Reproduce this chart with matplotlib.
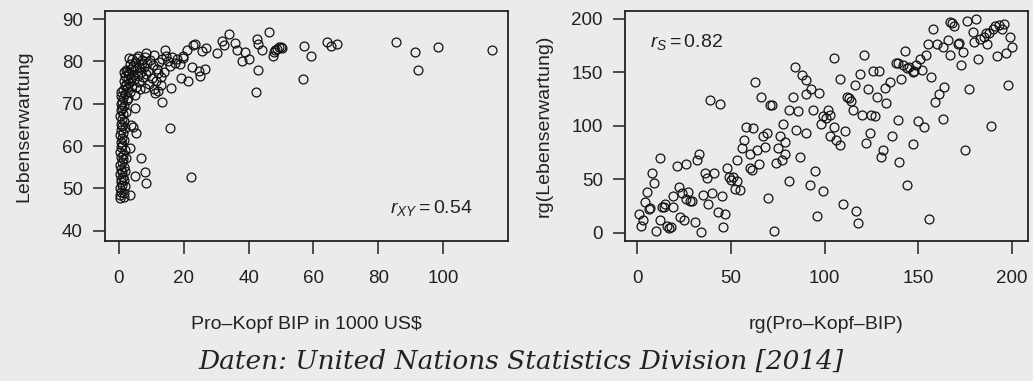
import matplotlib
matplotlib.use("Agg")
import matplotlib.pyplot as plt

plt.rcParams['font.family'] = ['Liberation Sans', 'DejaVu Sans']
plt.rcParams['mathtext.fontset'] = 'custom'
plt.rcParams['mathtext.rm'] = 'Liberation Sans'
plt.rcParams['mathtext.it'] = 'Liberation Sans:italic'

# Pro-Kopf BIP (1000 US$) und Lebenserwartung je Land
gdp = [0.3, 0.6, 0.4, 1.0, 0.5, 0.8, 1.3, 0.4, 1.1, 0.7, 1.6, 0.3, 0.9, 1.4, 0.6, 1.2,
       0.4, 1.8, 0.8, 1.1, 0.5, 1.5, 0.9, 0.3, 1.3, 0.7, 2.0, 1.0, 0.5, 1.6, 0.9, 0.4,
       1.3, 2.2, 0.7, 1.1, 1.7, 0.5, 1.0, 2.4, 1.4, 0.8, 1.9, 0.6, 1.2, 2.6, 1.6, 1.9,
       1.5, 1.8, 2.1, 0.2, 1.7,
       1.8, 2.3, 3.0, 1.5, 2.7, 3.6, 2.0, 4.2, 3.1, 1.7, 2.5, 4.8, 3.8, 5.5, 2.2, 6.2,
       4.4, 3.3, 7.0, 5.1, 2.8, 6.8, 5.8, 4.6, 3.9, 6.1, 7.5, 8.3, 9.1, 7.8, 8.8, 9.6,
       10.5, 11.8, 12.5, 13.2, 14.6, 15.2, 10.2, 11.4, 12.0, 9.4, 8.0, 6.5, 5.2, 4.0,
       3.0, 5.7, 7.2, 16.5, 17.8, 18.7, 19.8, 10.9, 8.2, 12.9, 14.0, 15.8, 12.2, 3.5,
       4.9, 2.9, 10.8, 13.0,
       3.4, 4.9, 8.0, 8.5, 6.8, 3.4, 3.8, 4.5, 5.3, 4.9, 15.7, 22.2, 13.2, 16.0, 11.1,
       19.3, 21.2, 22.4, 22.9, 20.9, 19.9, 17.3, 14.2, 6.0, 8.5, 23.5, 24.7, 25.0, 26.5,
       25.5, 26.9, 30.3, 32.5, 31.7, 34.0, 35.8, 36.3, 37.9, 38.9, 40.2, 42.3, 42.8,
       44.0, 43.0, 42.5, 46.3, 47.6, 47.7, 48.2, 48.7, 49.5, 49.9, 50.2, 56.9, 57.2,
       59.3, 64.1, 65.4, 67.2, 85.5, 91.4, 92.4, 98.3, 115.0]
life = [48.5, 49.2, 50.1, 50.8, 51.5, 52.2, 52.6, 53.3, 53.8, 54.5, 55.0, 55.6, 56.2,
        56.9, 57.5, 58.0, 58.6, 59.1, 59.7, 60.3, 60.9, 61.4, 62.0, 62.6, 63.1, 63.7,
        64.2, 64.8, 65.3, 65.9, 66.4, 67.0, 67.5, 68.0, 68.5, 69.0, 69.5, 70.0, 70.5,
        71.0, 71.4, 71.9, 72.3, 72.8, 73.2, 73.6, 49.0, 50.5, 52.0, 54.2, 57.2, 47.8,
        47.9,
        74.1, 74.6, 75.0, 75.4, 75.8, 76.1, 76.5, 76.8, 77.1, 77.4, 77.7, 77.9, 78.2,
        78.4, 78.0, 78.7, 79.0, 79.3, 79.5, 79.8, 77.2, 77.4, 76.6, 75.6, 74.3, 75.2,
        76.2, 77.0, 77.8, 78.6, 79.6, 80.3, 79.1, 78.2, 79.8, 80.6, 81.2, 80.2, 76.0,
        75.3, 77.2, 74.6, 73.8, 73.5, 74.0, 80.5, 80.9, 80.8, 80.3, 81.0, 80.5, 79.3,
        80.8, 81.5, 81.0, 76.4, 77.5, 78.8, 72.9, 72.7, 72.0, 71.3, 73.5, 74.5,
        48.4, 53.0, 53.9, 51.2, 57.2, 59.5, 65.0, 64.4, 63.2, 69.1, 64.2, 52.8, 70.5,
        73.6, 72.5, 76.0, 75.4, 78.7, 83.9, 82.7, 81.3, 79.5, 82.7, 81.3, 81.9, 84.0,
        77.7, 76.5, 78.1, 82.4, 83.2, 81.9, 83.9, 84.8, 86.4, 84.4, 82.6, 80.2, 82.3,
        80.5, 72.8, 77.9, 82.8, 84.2, 85.2, 87.0, 81.3, 82.3, 82.7, 82.9, 83.3, 83.4,
        83.1, 75.8, 83.7, 81.3, 84.6, 83.7, 84.2, 84.6, 82.1, 78.0, 83.5, 82.6]

# Rangplätze (BIP, Lebenserwartung)
rank_gdp = [1, 2, 3, 5, 4, 6, 7, 8, 9, 10, 12, 12, 13, 14, 15, 16, 17, 18, 19, 19,
            21, 22, 23, 24, 25, 26, 26, 27, 28, 29, 31, 32, 33, 34, 35, 36, 37, 38, 39,
            40, 41, 43, 44, 45, 46, 47, 48, 49, 50, 51, 52, 53, 53, 55, 56, 57, 58, 60,
            60, 61, 62, 63, 64, 65, 66, 67, 68, 69, 70, 71, 72, 73, 74, 75, 76, 77, 78,
            79, 79, 81, 81, 83, 84, 85, 86, 87, 88, 90, 90, 90, 92, 93, 94, 95, 96, 97,
            98, 99, 99, 101, 102, 103, 103, 105, 105, 106, 108, 108, 110, 111, 112, 113,
            114, 115, 116, 117, 118, 119, 120, 121, 122, 123, 124, 125, 126, 127, 128,
            129, 130, 131, 132, 133, 135, 136, 138, 139, 139, 140, 141, 142, 143, 144,
            144, 145, 147, 147, 148, 149, 150, 151, 152, 153, 154, 155, 156, 157, 158,
            159, 160, 161, 163, 163, 164, 166, 167, 167, 168, 169, 171, 172, 173, 174,
            175, 176, 177, 179, 180, 181, 182, 183, 185, 186, 187, 188, 189, 190, 191,
            192, 193, 195, 196, 197, 198, 199, 200]
rank_life = [17, 6, 12, 38, 29, 22, 23, 56, 46, 2, 12, 70, 24, 24, 27, 6, 4, 5, 24, 34,
             62, 43, 15, 37, 12, 64, 31, 38, 30, 30, 10, 68, 74, 1, 35, 56, 51, 27, 124,
             37, 56, 19, 120, 34, 5, 17, 60, 52, 49, 52, 41, 48, 68, 40, 79, 87, 99, 74,
             60, 59, 98, 141, 77, 64, 127, 90, 80, 93, 32, 119, 119, 2, 65, 79, 90, 68,
             102, 85, 74, 115, 48, 127, 155, 96, 114, 71, 147, 93, 143, 130, 45, 134,
             115, 58, 16, 131, 102, 39, 109, 107, 115, 90, 110, 99, 163, 87, 144, 82, 27,
             95, 127, 126, 123, 115, 138, 20, 9, 148, 110, 166, 84, 134, 93, 110, 151,
             109, 127, 151, 71, 77, 135, 121, 141, 90, 159, 105, 159, 66, 144, 157, 170,
             154, 45, 155, 83, 150, 151, 157, 104, 162, 152, 99, 166, 176, 13, 146, 190,
             122, 176, 130, 106, 174, 136, 180, 166, 197, 196, 193, 176, 177, 157, 169,
             77, 198, 134, 188, 178, 200, 162, 181, 183, 187, 176, 187, 100, 190, 193,
             165, 194, 190, 195, 168, 138, 183, 174]

bg = '#ebebeb'
ink = '#222222'

fig = plt.figure(figsize=(10.33, 3.81), dpi=100, facecolor=bg)
ax1 = fig.add_axes([0.1016, 0.3675, 0.3901, 0.6037])
ax2 = fig.add_axes([0.6050, 0.3675, 0.3901, 0.6037])

for ax in (ax1, ax2):
    ax.set_facecolor(bg)
    for s in ax.spines.values():
        s.set_linewidth(1.3)
        s.set_color(ink)
    ax.tick_params(direction='out', length=9, width=1.1, color=ink,
                   labelsize=13.5, labelcolor=ink)
    ax.tick_params(axis='x', pad=12)
    ax.tick_params(axis='y', pad=7)

ax1.plot(gdp, life, 'o', mfc='none', mec='#111111', ms=6.4, mew=0.9)
ax1.set_xlim(-4.3, 120)
ax1.set_ylim(37.6, 91.9)
ax1.set_xticks([0, 20, 40, 60, 80, 100])
ax1.set_yticks([40, 50, 60, 70, 80, 90])
ax1.text(0.5, -0.383, 'Pro–Kopf BIP in 1000 US$', transform=ax1.transAxes,
         ha='center', va='baseline', fontsize=14, color=ink)
ax1.text(-0.2, 0.5, 'Lebenserwartung', transform=ax1.transAxes, rotation=90,
         ha='center', va='center', fontsize=14, color=ink)
ax1.text(83.6, 44.3, r'$r_{XY} = 0.54$', ha='left', va='baseline',
         fontsize=14, color=ink)

ax2.plot(rank_gdp, rank_life, 'o', mfc='none', mec='#111111', ms=6.4, mew=0.9)
ax2.set_xlim(-6.6, 208.6)
ax2.set_ylim(-7.8, 207.3)
ax2.set_xticks([0, 50, 100, 150, 200])
ax2.set_yticks([0, 50, 100, 150, 200])
ax2.text(0.5, -0.383, 'rg(Pro–Kopf–BIP)', transform=ax2.transAxes,
         ha='center', va='baseline', fontsize=14, color=ink)
ax2.text(-0.2, 0.5, 'rg(Lebenserwartung)', transform=ax2.transAxes, rotation=90,
         ha='center', va='center', fontsize=14, color=ink)
ax2.text(6.8, 174, r'$r_S = 0.82$', ha='left', va='baseline',
         fontsize=14, color=ink)

fig.text(0.504, 0.031, 'Daten: United Nations Statistics Division [2014]',
         family='DejaVu Serif', style='italic', fontsize=19, color=ink,
         ha='center', va='baseline')

fig.savefig('out.png', dpi=100, facecolor=bg)
